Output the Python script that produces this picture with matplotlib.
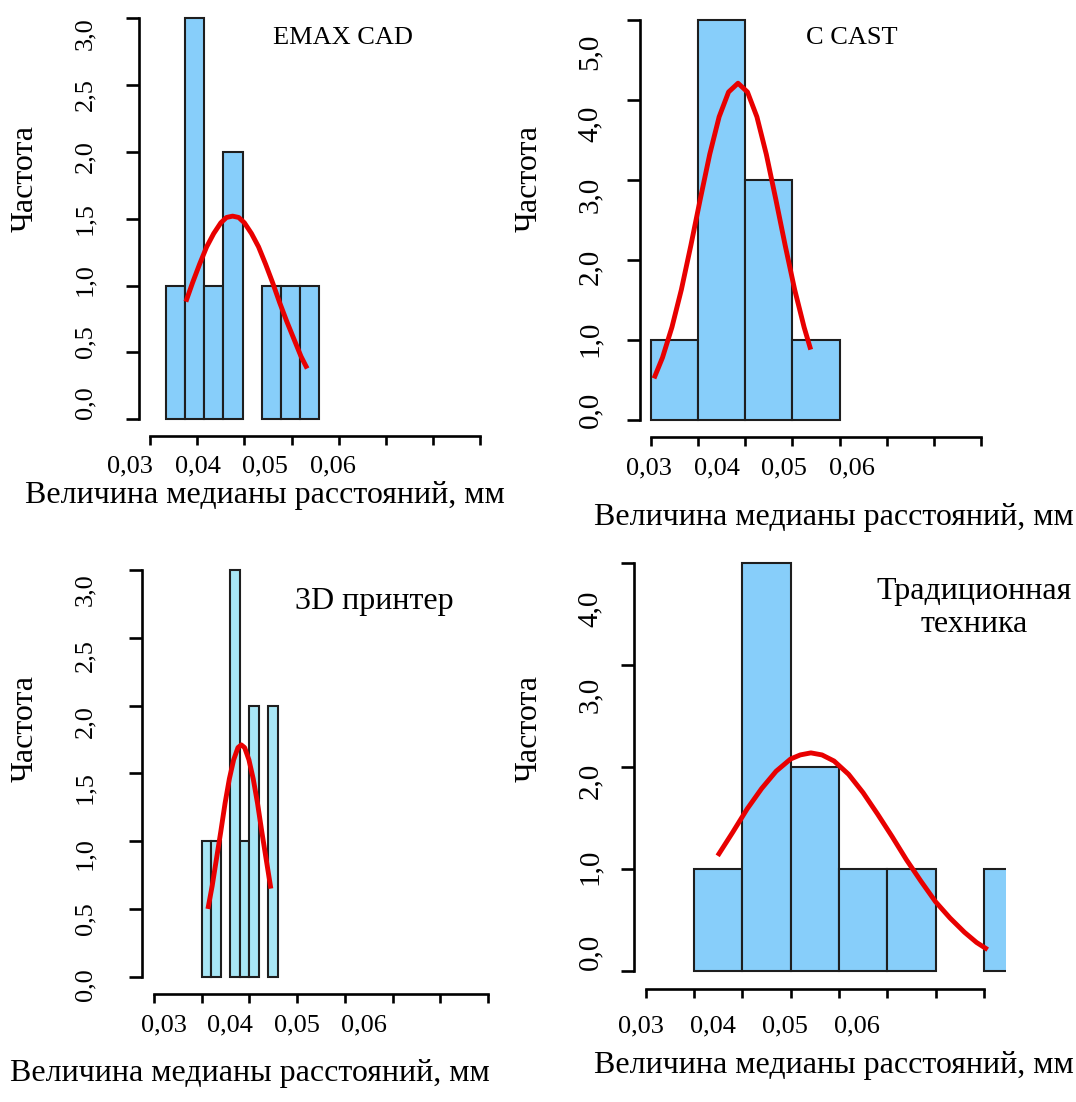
import numpy as np
import matplotlib
matplotlib.use('Agg')
import matplotlib.pyplot as plt

# x is measured in tick steps of the (unlabelled) bottom axis, tick 0..7
emax_counts = [1, 3, 1, 2, 0, 1, 1, 1]
emax_bin0, emax_binw = 0.34, 0.405
emax_curve_x = [0.76, 0.9, 1.05, 1.2, 1.35, 1.5, 1.62, 1.75, 1.88, 2.0, 2.15, 2.3, 2.45,
                2.6, 2.75, 2.9, 3.05, 3.2, 3.33]
emax_curve_y = [0.88, 1.02, 1.16, 1.29, 1.39, 1.47, 1.51, 1.52, 1.51, 1.47, 1.39, 1.29, 1.16,
                1.02, 0.87, 0.73, 0.60, 0.47, 0.38]

ccast_counts = [1, 5, 3, 1]
ccast_bin0, ccast_binw = 0.0, 1.0
ccast_curve_x = [0.07, 0.25, 0.45, 0.65, 0.85, 1.05, 1.25, 1.45, 1.65, 1.85, 2.05, 2.25, 2.45,
                 2.65, 2.85, 3.05, 3.25, 3.39]
ccast_curve_y = [0.52, 0.78, 1.16, 1.63, 2.18, 2.76, 3.32, 3.79, 4.10, 4.21, 4.10, 3.79, 3.32,
                 2.76, 2.18, 1.63, 1.16, 0.88]

printer_counts = [1, 1, 0, 3, 1, 2, 0, 2]
printer_bin0, printer_binw = 1.0, 0.2
printer_curve_x = [1.13, 1.22, 1.31, 1.40, 1.49, 1.58, 1.67, 1.76, 1.83, 1.90, 1.99, 2.08,
                   2.17, 2.26, 2.35, 2.45]
printer_curve_y = [0.50, 0.67, 0.87, 1.07, 1.28, 1.46, 1.60, 1.69, 1.71, 1.69, 1.60, 1.46,
                   1.28, 1.07, 0.87, 0.65]

trad_counts = [1, 4, 2, 1, 1, 0, 1]
trad_bin0, trad_binw = 1.0, 1.0
trad_curve_x = [1.49, 1.8, 2.1, 2.4, 2.7, 3.0, 3.2, 3.42, 3.65, 3.9, 4.2, 4.5, 4.8, 5.1, 5.4,
                5.7, 6.0, 6.3, 6.6, 6.85, 7.08]
trad_curve_y = [1.13, 1.36, 1.59, 1.79, 1.96, 2.08, 2.12, 2.14, 2.12, 2.06, 1.93, 1.75, 1.54,
                1.32, 1.09, 0.88, 0.68, 0.52, 0.38, 0.28, 0.21]

x_tick_labels = ['0,03', '0,04', '0,05', '0,06']
x_label = 'Величина медианы расстояний, мм'
y_label = 'Частота'

W, H, DPI = 1076, 1102, 100
PT = 72 / DPI
plt.rcParams['font.family'] = ['Liberation Serif', 'DejaVu Serif']


def fig_text(fig, x, y, s, **kw):
    fig.text(x / W, 1 - y / H, s, ha='center', va='center', **kw)


def panel(fig, counts, bin0, binw, cx, cy, color, lay):
    pad = 3
    ppu = (lay['base'] - lay['top']) / lay['ymax']
    left, right = lay['spine'], lay['right']
    bottom, top = lay['base'] + pad, lay['top'] - pad
    ax = fig.add_axes([left / W, 1 - bottom / H, (right - left) / W, (bottom - top) / H])
    ax.patch.set_alpha(0)
    ax.set_xlim((left - lay['t0']) / lay['dx'], (right - lay['t0']) / lay['dx'])
    ax.set_ylim(-pad / ppu, lay['ymax'] + pad / ppu)

    counts = np.asarray(counts, float)
    lefts = bin0 + binw * np.arange(len(counts))
    keep = counts > 0
    ax.bar(lefts[keep], counts[keep], width=binw, align='edge', color=color,
           edgecolor='#1e1e1e', linewidth=1.5)
    ax.plot(cx, cy, color='#e80000', lw=3.5, solid_capstyle='butt', solid_joinstyle='round')

    for s in ('top', 'right'):
        ax.spines[s].set_visible(False)
    ax.spines['left'].set_bounds(0, lay['ymax'])
    ax.spines['left'].set_linewidth(1.9)
    ax.spines['bottom'].set_bounds(0, 7)
    ax.spines['bottom'].set_linewidth(1.9)
    ax.spines['bottom'].set_position(('outward', (lay['axis'] - bottom) * PT))
    ax.set_xticks(range(8))
    ax.set_xticklabels([])
    yt = np.arange(0, lay['ymax'] + 1e-9, lay['ystep'])
    ax.set_yticks(yt)
    ax.set_yticklabels([])
    ax.tick_params(axis='x', direction='out', length=9 * PT, width=1.9)
    ax.tick_params(axis='y', direction='out', length=13 * PT, width=1.9)

    # tick labels sit off the tick marks in the source picture
    ya = (bottom - lay['xlab_y']) / (bottom - top)
    c, d = lay['xmap']
    for i, s in enumerate(x_tick_labels):
        ax.text(c + d * i, ya, s, transform=ax.get_xaxis_transform(),
                ha='center', va='center', fontsize=19)
    xa = (lay['ylab_x'] - left) / (right - left)
    a, b = lay['ymap']
    for v in yt:
        ax.text(xa, a + b * v, f'{v:.1f}'.replace('.', ','), transform=ax.get_yaxis_transform(),
                ha='center', va='center', rotation=90, fontsize=lay['yfs'])
    return ax


fig = plt.figure(figsize=(W / DPI, H / DPI), dpi=DPI)

lay1 = dict(spine=138.5, right=482, t0=150, dx=47.2, base=419.3, top=18.3, ymax=3, ystep=0.5,
            axis=436, xlab_y=466.7, xmap=(-0.42, 1.43), ylab_x=85, ymap=(0.122, 0.922), yfs=19)
lay2 = dict(spine=639.5, right=984, t0=650.7, dx=47.2, base=420, top=20, ymax=5, ystep=1,
            axis=437.3, xlab_y=468, xmap=(-0.03, 1.43), ylab_x=590, ymap=(0.125, 0.895), yfs=21)
lay3 = dict(spine=142, right=490, t0=154, dx=47.7, base=976.7, top=570, ymax=3, ystep=0.5,
            axis=994, xlab_y=1025, xmap=(0.20, 1.40), ylab_x=85, ymap=(-0.061, 0.973), yfs=19)
lay4 = dict(spine=634, right=1005.5, t0=645.7, dx=48.3, base=971, top=563.3, ymax=4, ystep=1,
            axis=989, xlab_y=1026, xmap=(-0.09, 1.49), ylab_x=590, ymap=(0.185, 0.841), yfs=21)

panel(fig, emax_counts, emax_bin0, emax_binw, emax_curve_x, emax_curve_y, '#87cefa', lay1)
panel(fig, ccast_counts, ccast_bin0, ccast_binw, ccast_curve_x, ccast_curve_y, '#87cefa', lay2)
panel(fig, printer_counts, printer_bin0, printer_binw, printer_curve_x, printer_curve_y, '#a8e6f5', lay3)
panel(fig, trad_counts, trad_bin0, trad_binw, trad_curve_x, trad_curve_y, '#87cefa', lay4)

fig_text(fig, 343, 38, 'EMAX CAD', fontsize=19)
fig_text(fig, 852, 38, 'C CAST', fontsize=19)
fig_text(fig, 374, 601, '3D принтер', fontsize=23)
fig_text(fig, 974, 608, 'Традиционная\nтехника', fontsize=23, linespacing=1.15)

for x, y in [(25, 178), (529, 178), (25, 729), (529, 728)]:
    fig_text(fig, x, y, y_label, fontsize=23, rotation=90)
for x, y in [(265, 495), (834, 518), (250, 1074), (834, 1065)]:
    fig_text(fig, x, y, x_label, fontsize=23)

fig.savefig('out.png', dpi=DPI)
